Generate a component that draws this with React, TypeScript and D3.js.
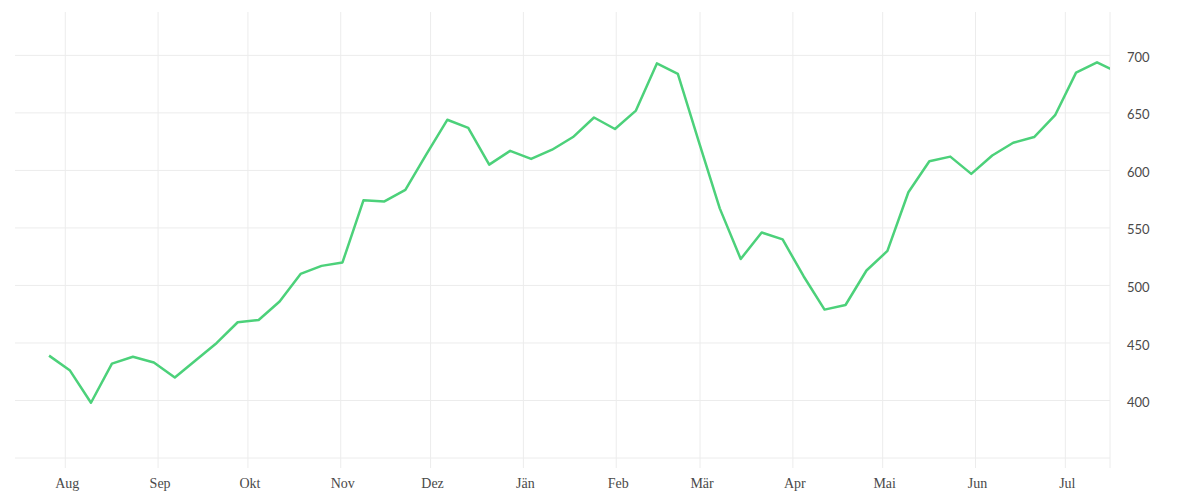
import React from "react";
import * as d3 from "d3";

const startDate = new Date(2018, 6, 26, 14);
const values: number[] = [
  439, 426, 398, 432, 438, 433, 420, 435, 450, 468,
  470, 486, 510, 517, 520, 574, 573, 583, 614, 644,
  637, 605, 617, 610, 618, 629, 646, 636, 652, 693,
  684, 625, 567, 523, 546, 540, 508, 479, 483, 513,
  530, 581, 608, 612, 597, 613, 624, 629, 648, 685,
  694, 685,
];
const monthLabels: string[] = ["Aug", "Sep", "Okt", "Nov", "Dez", "Jän", "Feb", "Mär", "Apr", "Mai", "Jun", "Jul"];
const yTicks: number[] = [400, 450, 500, 550, 600, 650, 700];
const yGrid: number[] = [350, 400, 450, 500, 550, 600, 650, 700];

const data = values.map((v, i) => ({ date: d3.timeDay.offset(startDate, i * 7), value: v }));

export default function App() {
  const W = 1200, H = 500;
  const left = 15, right = 1110, top = 12, bottom = 458;
  const x = d3.scaleTime().domain([new Date(2018, 6, 15, 5), new Date(2019, 6, 15, 22)]).range([left, right]);
  const y = d3.scaleLinear().domain([350, 737.7]).range([bottom, top]);
  const months = d3.timeMonth.range(new Date(2018, 7, 1), new Date(2019, 7, 1));
  const line = d3.line<{ date: Date; value: number }>().x(d => x(d.date)).y(d => y(d.value));

  return (
    <svg width={W} height={H} style={{ position: "absolute", left: 0, top: 0, background: "#fff" }}>
      <defs>
        <clipPath id="plot">
          <rect x={left} y={0} width={right - left} height={H} />
        </clipPath>
      </defs>
      {yGrid.map(t => (
        <line key={"h" + t} x1={left} x2={right} y1={y(t)} y2={y(t)} stroke="#ececec" strokeWidth={1} />
      ))}
      {months.map((m, i) => (
        <g key={"v" + i}>
          <line x1={x(m)} x2={x(m)} y1={top} y2={bottom + 10} stroke="#ececec" strokeWidth={1} />
          <text x={x(m) + 2} y={488} textAnchor="middle" fontFamily="'Liberation Serif', serif" fontSize={14} fill="#4a4a4a">
            {monthLabels[i]}
          </text>
        </g>
      ))}
      <line x1={right} x2={right} y1={top} y2={bottom + 10} stroke="#ececec" strokeWidth={1} />
      {yTicks.map(t => (
        <text key={"y" + t} x={1127} y={y(t) + 2} dy="0.35em" fontFamily="Lato, sans-serif" fontSize={13} fill="#4a4a4a">
          {t}
        </text>
      ))}
      <path d={line(data) || ""} fill="none" stroke="#4cd17a" strokeWidth={2.5} strokeLinejoin="round" clipPath="url(#plot)" />
    </svg>
  );
}
